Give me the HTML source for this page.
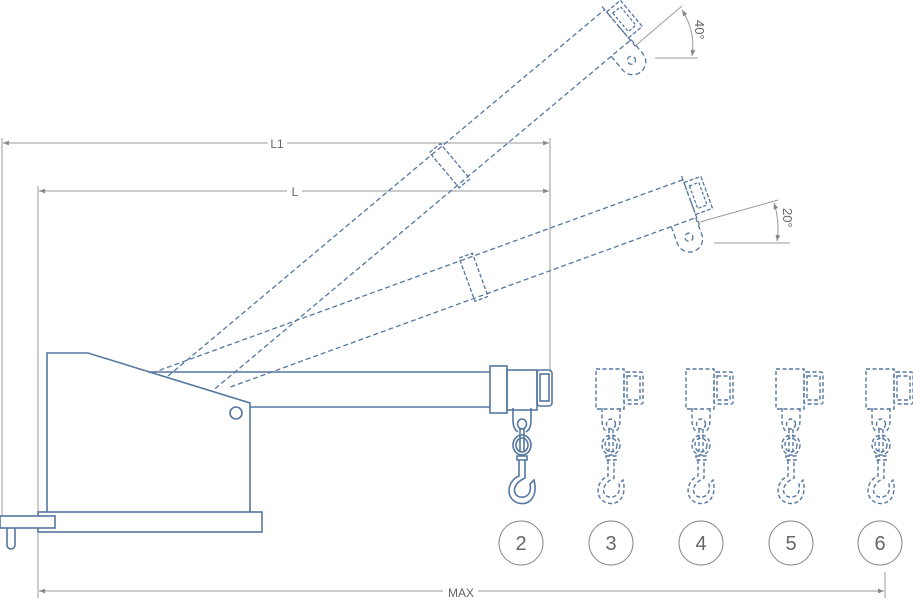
<!DOCTYPE html>
<html><head><meta charset="utf-8"><style>
html,body{margin:0;padding:0;background:#fff;}
svg{display:block;}
text{font-family:"Liberation Sans",sans-serif;fill:#666;}
</style></head><body>
<svg width="913" height="600" viewBox="0 0 913 600" xmlns="http://www.w3.org/2000/svg">
<defs>
<marker id="ar" viewBox="0 0 10 10" refX="10" refY="5" markerWidth="8" markerHeight="6" orient="auto-start-reverse"><path d="M0,1 L10,5 L0,9 z" fill="#888"/></marker>
<g id="hook">
  <path d="M-9,408 L-9,420 Q-9,429 -4,432 M9,408 L9,420 Q9,429 4,432"/>
  <ellipse cx="0" cy="424" rx="4.5" ry="5"/>
  <line x1="-2" y1="429" x2="-2" y2="452"/><line x1="2" y1="429" x2="2" y2="452"/>
  <ellipse cx="0" cy="445" rx="9" ry="10"/>
  <ellipse cx="0" cy="445" rx="6" ry="7"/>
  <path d="M-5,456 L5,456 L5,460 L-5,460 z"/>
  <path d="M-3,460 L-3,476 C-14,480 -18,498 -4,503 C8,506 16,496 12,480 L8,484 C10,494 4,498 -2,497 C-10,495 -10,484 3,478 L3,460"/>
</g>
<g id="trol">
  <rect x="-15" y="369" width="28" height="40"/>
  <rect x="13" y="372" width="19" height="32" rx="2"/>
  <rect x="16" y="376" width="13" height="24"/>
</g>
</defs>

<g stroke="#999" stroke-width="1" fill="none">
  <line x1="2" y1="138" x2="2" y2="520"/>
  <line x1="38" y1="186" x2="38" y2="598"/>
  <line x1="550" y1="138" x2="550" y2="372"/>
  <line x1="885" y1="572" x2="885" y2="598"/>
  <line x1="3" y1="143" x2="268" y2="143" marker-start="url(#ar)"/>
  <line x1="287" y1="143" x2="549" y2="143" marker-end="url(#ar)"/>
  <line x1="39" y1="191" x2="287" y2="191" marker-start="url(#ar)"/>
  <line x1="302" y1="191" x2="549" y2="191" marker-end="url(#ar)"/>
  <line x1="39" y1="591" x2="443" y2="591" marker-start="url(#ar)"/>
  <line x1="478" y1="591" x2="884" y2="591" marker-end="url(#ar)"/>
  <line x1="635" y1="46" x2="682" y2="6"/>
  <line x1="655" y1="58" x2="698" y2="58"/>
  <path d="M682,10 Q696,32 692,56" marker-start="url(#ar)" marker-end="url(#ar)"/>
  <line x1="700" y1="222" x2="778" y2="200"/>
  <line x1="714" y1="243" x2="790" y2="243"/>
  <path d="M774,203 Q780,222 777,241" marker-start="url(#ar)" marker-end="url(#ar)"/>
</g>
<text x="277" y="148" font-size="12" text-anchor="middle">L1</text>
<text x="295" y="196" font-size="12" text-anchor="middle">L</text>
<text x="461" y="597" font-size="12" text-anchor="middle">MAX</text>
<text x="0" y="0" font-size="13" transform="translate(695,20) rotate(90)">40°</text>
<text x="0" y="0" font-size="13" transform="translate(783,208) rotate(90)">20°</text>

<g stroke="#5577a0" stroke-width="1.3" fill="none" stroke-dasharray="5,3">
  <g transform="translate(168,376) rotate(-40)">
    <line x1="0" y1="0" x2="570" y2="0"/>
    <line x1="28" y1="40" x2="570" y2="40"/>
    <rect x="344" y="-3" width="14" height="46" stroke-dasharray="4,2"/>
    <line x1="570" y1="-4" x2="570" y2="48"/>
    <rect x="570" y="3" width="18" height="34" stroke-dasharray="4,2"/>
    <rect x="574" y="8" width="10" height="24" stroke-dasharray="3,2"/>
    <path d="M545,40 L545,58 A13,13 0 0 0 571,58 L571,40"/>
    <circle cx="558" cy="56" r="4"/>
  </g>
  <g transform="translate(152,373) rotate(-20)">
    <line x1="0" y1="0" x2="565" y2="0"/>
    <line x1="69" y1="40" x2="565" y2="40"/>
    <rect x="328" y="-3" width="14" height="46" stroke-dasharray="4,2"/>
    <line x1="565" y1="-4" x2="565" y2="48"/>
    <rect x="565" y="3" width="18" height="34" stroke-dasharray="4,2"/>
    <rect x="569" y="8" width="10" height="24" stroke-dasharray="3,2"/>
    <path d="M538,40 L538,58 A13,13 0 0 0 564,58 L564,40"/>
    <circle cx="551" cy="56" r="4"/>
  </g>
</g>

<g stroke="#5577a0" stroke-width="1.6" fill="none">
  <path d="M47,512 L47,353 L88,353 L250,403 L250,512"/>
  <rect x="38" y="512" width="224" height="20"/>
  <rect x="0" y="516" width="55" height="12" fill="#fff"/>
  <path d="M7,528 L7,545 A4,4 0 0 0 15,545 L15,528"/>
  <line x1="148" y1="372" x2="490" y2="372"/>
  <line x1="250" y1="407" x2="490" y2="407"/>
  <circle cx="236" cy="413" r="6"/>
  <rect x="490" y="366" width="17" height="47"/>
  <rect x="507" y="370" width="30" height="40"/>
  <rect x="537" y="370" width="15" height="36" rx="3"/>
  <rect x="540" y="374" width="9" height="27"/>
  <use href="#hook" transform="translate(522,0)"/>
</g>

<g stroke="#5577a0" stroke-width="1.4" fill="none" stroke-dasharray="4,2.5">
  <use href="#trol" transform="translate(611,0)"/><use href="#hook" transform="translate(611,0)"/>
  <use href="#trol" transform="translate(701,0)"/><use href="#hook" transform="translate(701,0)"/>
  <use href="#trol" transform="translate(791,0)"/><use href="#hook" transform="translate(791,0)"/>
  <use href="#trol" transform="translate(881,0)"/><use href="#hook" transform="translate(881,0)"/>
</g>

<g stroke="#888" stroke-width="1" fill="none">
  <circle cx="521" cy="543" r="22"/><circle cx="611" cy="543" r="22"/>
  <circle cx="701" cy="543" r="22"/><circle cx="791" cy="543" r="22"/>
  <circle cx="880" cy="543" r="22"/>
</g>
<g font-size="20" text-anchor="middle">
  <text x="521" y="550">2</text><text x="611" y="550">3</text>
  <text x="701" y="550">4</text><text x="791" y="550">5</text>
  <text x="880" y="550">6</text>
</g>
</svg>
</body></html>
